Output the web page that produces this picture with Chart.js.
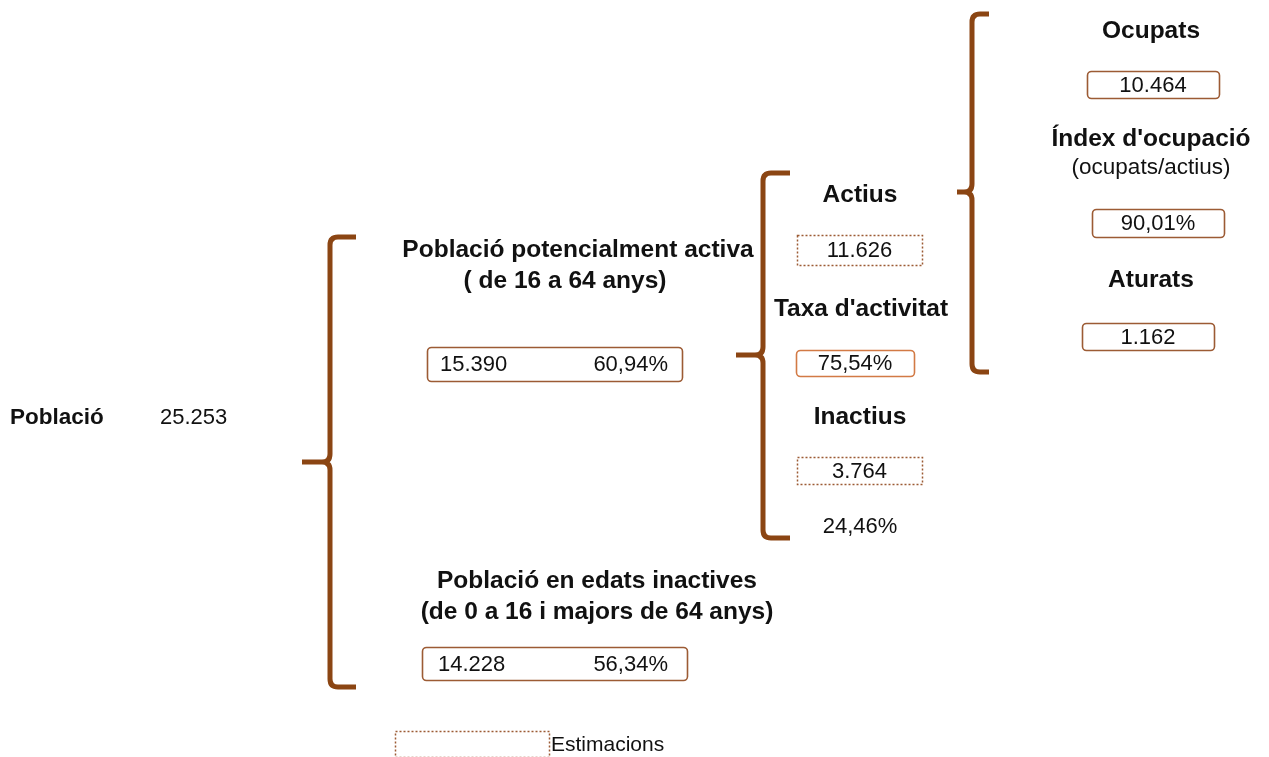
<!DOCTYPE html>
<html>
<head>
<meta charset="utf-8">
<script src="https://cdn.jsdelivr.net/npm/chart.js@4.4.1/dist/chart.umd.min.js"></script>
<style>
    body { margin: 0; background: #fff; }
    canvas { display: block; }
</style>
</head>
<body>
<canvas id="chart" width="1269" height="757"></canvas>
<script>
// --- data ---
const totalLabel = 'Població';
const totalValue = 25253;

const groupLabels = ['Població potencialment activa', 'Població en edats inactives'];
const groupSubLabels = ['( de 16 a 64 anys)', '(de 0 a 16 i majors de 64 anys)'];
const groupValues = [15390, 14228];
const groupShares = [60.94, 56.34];

const activityLabels = ['Actius', "Taxa d'activitat", 'Inactius'];
const activityValues = [11626, 75.54, 3764];
const activityIsPct = [false, true, false];
const activityEstimated = [true, false, true];
const inactiveShare = 24.46;

const employmentLabels = ['Ocupats', "Índex d'ocupació", 'Aturats'];
const employmentSubLabels = ['', '(ocupats/actius)', ''];
const employmentValues = [10464, 90.01, 1162];
const employmentIsPct = [false, true, false];

const legendLabel = 'Estimacions';

// --- layout (scale units, y grows downward) ---
const BRACE = '#8b4513';
const BOX = '#9c5b34';
const BOX_ORANGE = '#d27a45';
const FONT = '"Liberation Sans", Arial, sans-serif';
const TITLE_SIZE = 24.5;
const VALUE_SIZE = 22;

function fmtInt(n) {
    return String(n).replace(/\B(?=(\d{3})+(?!\d))/g, '.');
}
function fmtPct(n) {
    return n.toFixed(2).replace('.', ',') + '%';
}

const layout = {
    total: { labelX: 10, valueX: 160, y: 418 },
    braces: [
        { x: 330, top: 237, bottom: 687, mid: 462, tip: 302, hook: 356 },
        { x: 763, top: 173, bottom: 538, mid: 355, tip: 736, hook: 790 },
        { x: 972, top: 14, bottom: 372, mid: 192, tip: 957, hook: 989 }
    ],
    groups: [
        { cx: 578, y1: 250, cx2: 565, y2: 281, box: [427, 347, 682, 381], padL: 13, padR: 14 },
        { cx: 597, y1: 581, cx2: 597, y2: 612, box: [422, 647, 687, 680], padL: 16, padR: 19 }
    ],
    activity: [
        { cx: 860, y: 195, box: [797, 235, 922, 265] },
        { cx: 861, y: 309, box: [796, 350, 914, 376] },
        { cx: 860, y: 417, box: [797, 457, 922, 484] }
    ],
    inactiveShare: { x: 860, y: 527 },
    employment: [
        { cx: 1151, y: 31, subY: 0, box: [1087, 71, 1219, 98] },
        { cx: 1151, y: 139, subY: 168, box: [1092, 209, 1224, 237] },
        { cx: 1151, y: 280, subY: 0, box: [1082, 323, 1214, 350] }
    ],
    legend: { box: [395, 731, 549, 757], textX: 551, y: 745 }
};

const diagramPlugin = {
    id: 'diagram',
    afterDraw(chart) {
        const ctx = chart.ctx;
        const xs = chart.scales.x, ys = chart.scales.y;
        const px = v => xs.getPixelForValue(v);
        const py = v => ys.getPixelForValue(v);

        function text(str, x, y, opts = {}) {
            ctx.save();
            ctx.font = `${opts.bold ? 'bold ' : ''}${opts.size || VALUE_SIZE}px ${FONT}`;
            ctx.fillStyle = opts.color || '#111';
            ctx.textAlign = opts.align || 'center';
            ctx.textBaseline = 'middle';
            ctx.fillText(str, px(x), py(y));
            ctx.restore();
        }

        function box(b, opts = {}) {
            const x0 = px(b[0]), y0 = py(b[1]), x1 = px(b[2]), y1 = py(b[3]);
            ctx.save();
            ctx.beginPath();
            if (opts.dotted) {
                ctx.setLineDash([2, 2]);
                ctx.lineWidth = 1.5;
                ctx.rect(x0 + 0.5, y0 + 0.5, x1 - x0, y1 - y0);
            } else {
                ctx.lineWidth = 1.6;
                ctx.roundRect(x0 + 0.5, y0 + 0.5, x1 - x0, y1 - y0, 4);
            }
            ctx.strokeStyle = opts.color || BOX;
            ctx.stroke();
            ctx.restore();
        }

        function brace(b) {
            const x = px(b.x), top = py(b.top), bottom = py(b.bottom), mid = py(b.mid);
            const tip = px(b.tip), hook = px(b.hook);
            const r = 8;
            ctx.save();
            ctx.strokeStyle = BRACE;
            ctx.lineWidth = 5;
            ctx.lineJoin = 'round';
            ctx.beginPath();
            ctx.moveTo(hook, top);
            ctx.lineTo(x + r, top);
            ctx.quadraticCurveTo(x, top, x, top + r);
            ctx.lineTo(x, mid - r);
            ctx.quadraticCurveTo(x, mid, x - r, mid);
            ctx.lineTo(tip, mid);
            ctx.moveTo(x - r, mid);
            ctx.quadraticCurveTo(x, mid, x, mid + r);
            ctx.lineTo(x, bottom - r);
            ctx.quadraticCurveTo(x, bottom, x + r, bottom);
            ctx.lineTo(hook, bottom);
            ctx.stroke();
            ctx.restore();
        }

        layout.braces.forEach(brace);

        // total population
        text(totalLabel, layout.total.labelX, layout.total.y, { bold: true, size: 22.5, align: 'left' });
        text(fmtInt(totalValue), layout.total.valueX, layout.total.y, { align: 'left' });

        // age groups
        groupLabels.forEach((label, i) => {
            const g = layout.groups[i];
            text(label, g.cx, g.y1, { bold: true, size: TITLE_SIZE });
            text(groupSubLabels[i], g.cx2, g.y2, { bold: true, size: TITLE_SIZE });
            box(g.box);
            const my = (g.box[1] + g.box[3]) / 2 + 1;
            text(fmtInt(groupValues[i]), g.box[0] + g.padL, my, { align: 'left' });
            text(fmtPct(groupShares[i]), g.box[2] - g.padR, my, { align: 'right' });
        });

        // activity
        activityLabels.forEach((label, i) => {
            const a = layout.activity[i];
            text(label, a.cx, a.y, { bold: true, size: TITLE_SIZE });
            box(a.box, activityEstimated[i] ? { dotted: true } : { color: BOX_ORANGE });
            const v = activityIsPct[i] ? fmtPct(activityValues[i]) : fmtInt(activityValues[i]);
            text(v, (a.box[0] + a.box[2]) / 2, (a.box[1] + a.box[3]) / 2 + 1);
        });
        text(fmtPct(inactiveShare), layout.inactiveShare.x, layout.inactiveShare.y);

        // employment
        employmentLabels.forEach((label, i) => {
            const e = layout.employment[i];
            text(label, e.cx, e.y, { bold: true, size: TITLE_SIZE });
            if (employmentSubLabels[i]) text(employmentSubLabels[i], e.cx, e.subY, { size: 22.5 });
            box(e.box);
            const v = employmentIsPct[i] ? fmtPct(employmentValues[i]) : fmtInt(employmentValues[i]);
            text(v, (e.box[0] + e.box[2]) / 2, (e.box[1] + e.box[3]) / 2 + 1);
        });

        // legend
        box(layout.legend.box, { dotted: true });
        text(legendLabel, layout.legend.textX, layout.legend.y, { size: 21, align: 'left' });
    }
};

new Chart(document.getElementById('chart'), {
    type: 'scatter',
    data: { datasets: [{ data: [], pointRadius: 0 }] },
    options: {
        responsive: false,
        devicePixelRatio: 1,
        animation: false,
        layout: { padding: 0 },
        plugins: { legend: { display: false }, tooltip: { enabled: false } },
        scales: {
            x: { type: 'linear', min: 0, max: 1269, display: false },
            y: { type: 'linear', min: 0, max: 757, reverse: true, display: false }
        }
    },
    plugins: [diagramPlugin]
});
</script>
</body>
</html>
